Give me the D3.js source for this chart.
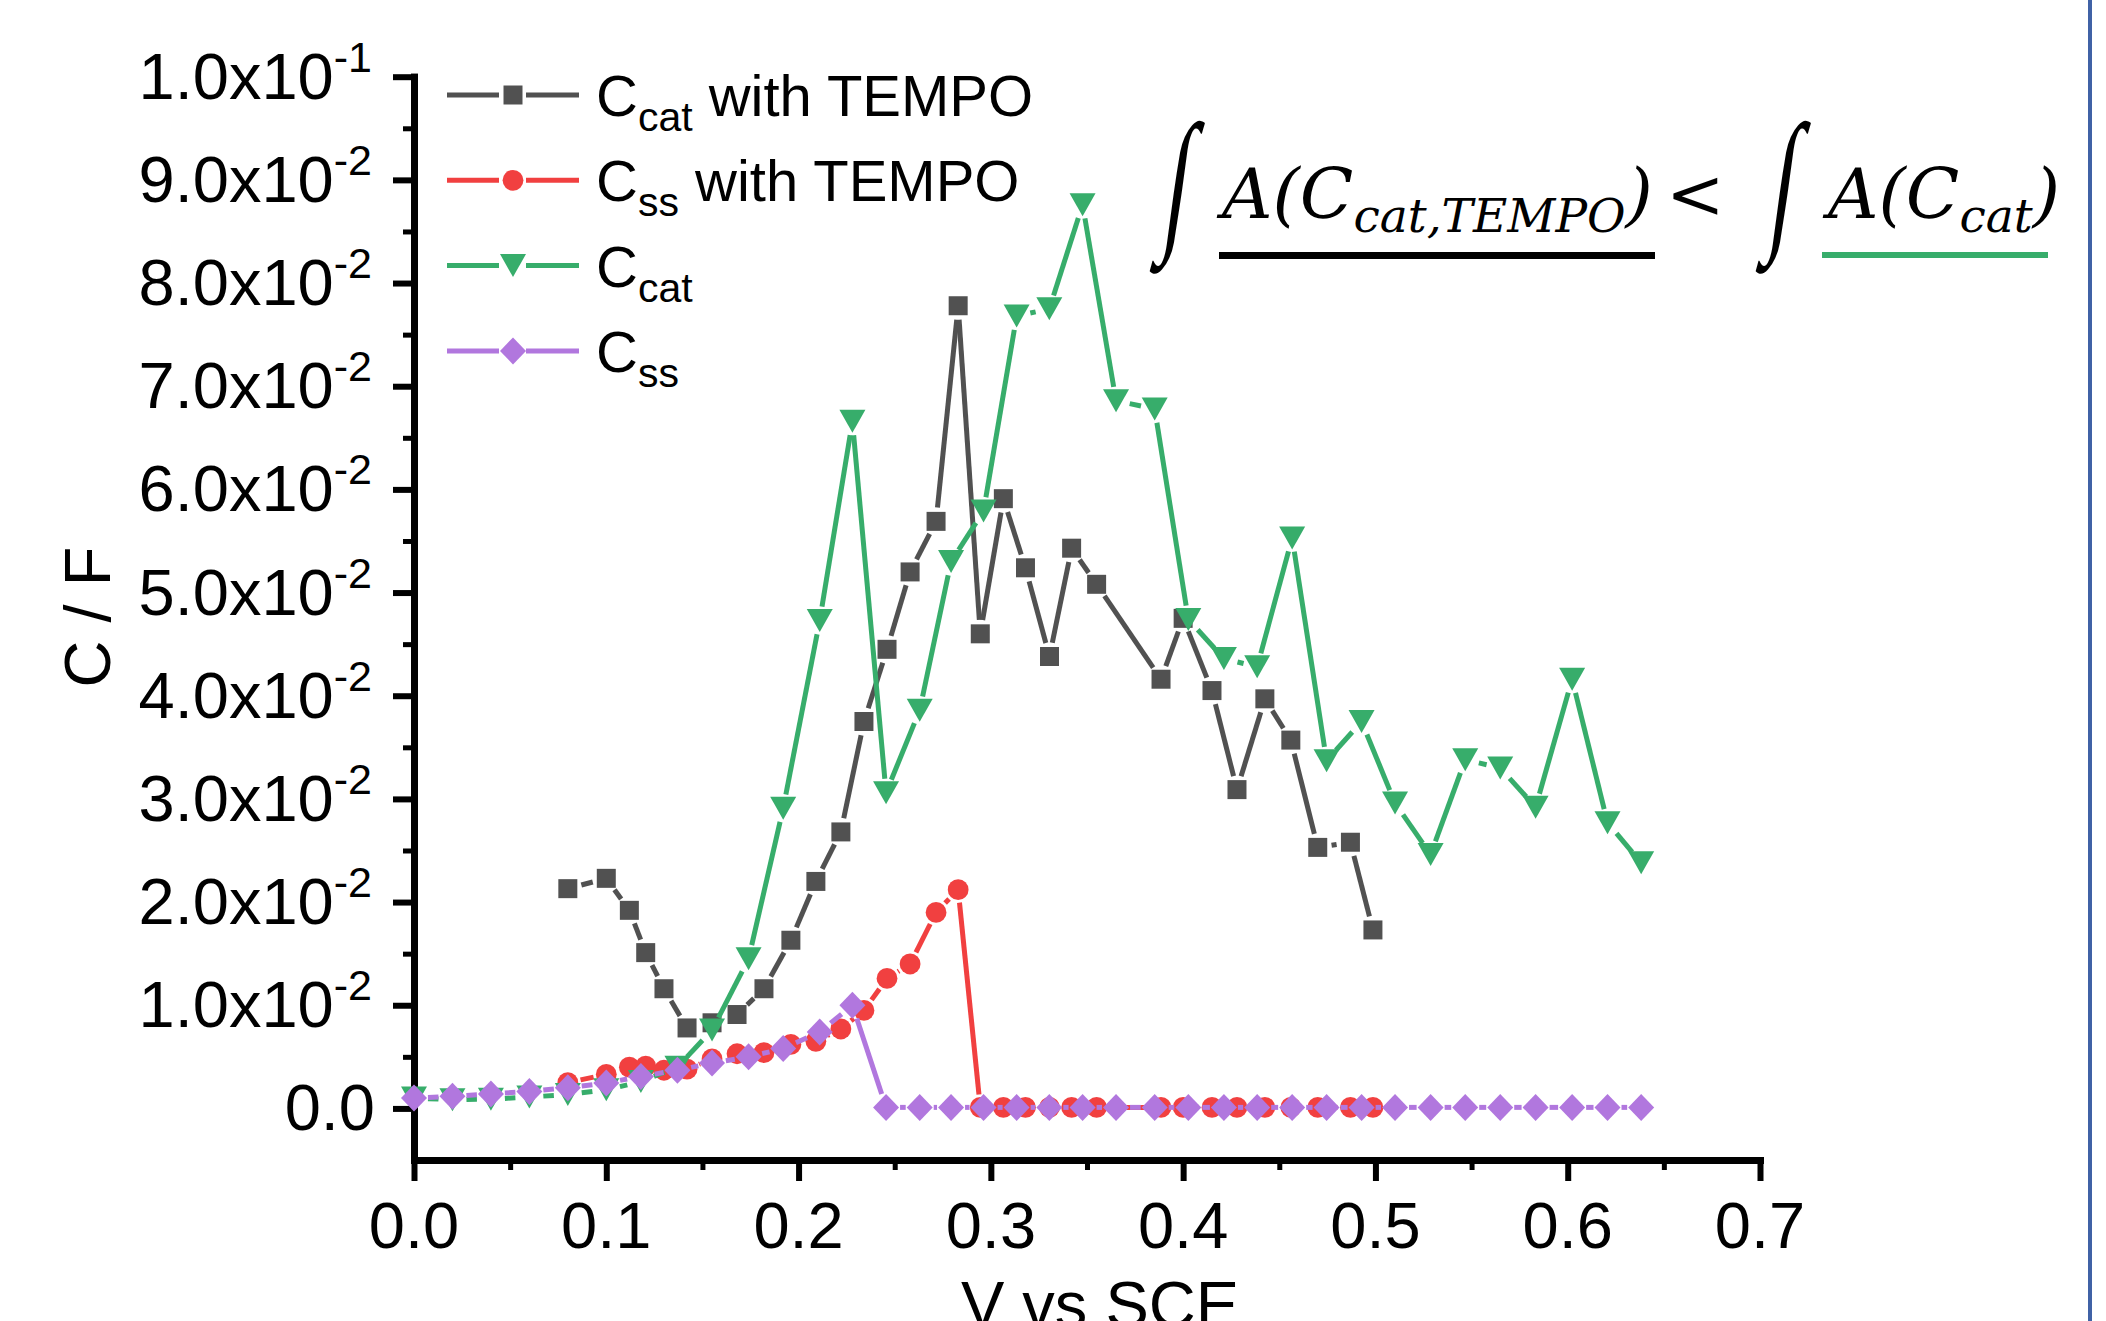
<!DOCTYPE html>
<html>
<head>
<meta charset="utf-8">
<script src="https://cdn.jsdelivr.net/npm/d3@7"></script>
<style>
body { margin: 0; background: #fff; }
svg { display: block; }
text { font-family: "Liberation Sans", Arial, sans-serif; fill: #000; white-space: pre; }
.formula text { font-family: "DejaVu Serif", serif; font-style: italic; }
.formula text.integral { font-family: "Liberation Serif", serif; font-style: normal; }
</style>
</head>
<body>
<svg width="2106" height="1321"></svg>
<script>
'use strict';

///////////////////////////// data /////////////////////////////
// potentials (V vs SCE) of the TEMPO runs
var tempoV = [0.080, 0.100, 0.112, 0.1205, 0.130, 0.142, 0.155, 0.168, 0.182, 0.196,
    0.209, 0.222, 0.234, 0.246, 0.258, 0.2715, 0.283, 0.2945, 0.3065, 0.318, 0.3305,
    0.342, 0.355, 0.3885, 0.400, 0.415, 0.428, 0.4425, 0.456, 0.470, 0.487, 0.4987];
var catTempoC = [0.0213, 0.0223, 0.0192, 0.0151, 0.0116, 0.0078, 0.0083, 0.0091, 0.0116, 0.0163,
    0.0220, 0.0268, 0.0375, 0.0445, 0.0520, 0.0569, 0.0778, 0.0460, 0.0591, 0.0524, 0.0438,
    0.0543, 0.0508, 0.0416, 0.0475, 0.0405, 0.0309, 0.0397, 0.0357, 0.0253, 0.0258, 0.0173];
var ssTempoC = [0.0025, 0.0033, 0.0040, 0.0041, 0.0037, 0.0038, 0.0048, 0.0053, 0.0054, 0.0062,
    0.0065, 0.0077, 0.0095, 0.0126, 0.0140, 0.0190, 0.0212, 0.0001, 0.0001, 0.0001, 0.0001,
    0.0001, 0.0001, 0.0001, 0.0001, 0.0001, 0.0001, 0.0001, 0.0001, 0.0001, 0.0001, 0.0001];

// potentials of the runs without TEMPO
var plainV = [0.000, 0.020, 0.040, 0.060, 0.080, 0.100, 0.118, 0.137, 0.155, 0.174,
    0.192, 0.211, 0.228, 0.2455, 0.263, 0.2793, 0.2962, 0.3134, 0.3304, 0.3477, 0.3651,
    0.3852, 0.4027, 0.4212, 0.4385, 0.4567, 0.4746, 0.4928, 0.5102, 0.5287, 0.5467,
    0.5649, 0.5833, 0.6023, 0.6207, 0.6382];
var catC = [0.0010, 0.00085, 0.0009, 0.0011, 0.00135, 0.0018, 0.0026, 0.0040, 0.0076, 0.0145,
    0.0291, 0.0473, 0.0666, 0.0306, 0.0386, 0.0530, 0.0579, 0.0768, 0.0775, 0.0876, 0.0686,
    0.0678, 0.0474, 0.0436, 0.0428, 0.0553, 0.0337, 0.0375, 0.0296, 0.0246, 0.0338,
    0.0330, 0.0292, 0.0416, 0.0277, 0.0238];
var ssC = [0.0010, 0.00117, 0.0014, 0.00165, 0.0020, 0.00246, 0.0031, 0.0037, 0.0044, 0.0050,
    0.0058, 0.0074, 0.0100, 0.0001, 0.0001, 0.0001, 0.0001, 0.0001, 0.0001, 0.0001, 0.0001,
    0.0001, 0.0001, 0.0001, 0.0001, 0.0001, 0.0001, 0.0001, 0.0001, 0.0001, 0.0001,
    0.0001, 0.0001, 0.0001, 0.0001, 0.0001];

// ticks
var xTicks = [0, 0.1, 0.2, 0.3, 0.4, 0.5, 0.6, 0.7];
var xTickLabels = ['0.0', '0.1', '0.2', '0.3', '0.4', '0.5', '0.6', '0.7'];
var xMinor = [0.05, 0.15, 0.25, 0.35, 0.45, 0.55, 0.65];
var yTicks = [0, 0.01, 0.02, 0.03, 0.04, 0.05, 0.06, 0.07, 0.08, 0.09, 0.1];
var yTickMantissa = ['0.0', '1.0x10', '2.0x10', '3.0x10', '4.0x10', '5.0x10', '6.0x10', '7.0x10', '8.0x10', '9.0x10', '1.0x10'];
var yTickExp = ['', '-2', '-2', '-2', '-2', '-2', '-2', '-2', '-2', '-2', '-1'];
var yMinor = [0.005, 0.015, 0.025, 0.035, 0.045, 0.055, 0.065, 0.075, 0.085, 0.095];

// legend
var legendMain = ['C', 'C', 'C', 'C'];
var legendSub = ['cat', 'ss', 'cat', 'ss'];
var legendTail = [' with TEMPO', ' with TEMPO', '', ''];

///////////////////////////// set up /////////////////////////////
var svg = d3.select('svg');
var x = d3.scaleLinear().domain([0, 0.7]).range([414, 1760]);
var y = d3.scaleLinear().domain([-0.005, 0.1]).range([1160, 76.7]);

var squarePath = d3.symbol(d3.symbolSquare, 361)();
var circlePath = d3.symbol(d3.symbolCircle, 340)();
var trianglePath = 'M-13,-11.5L13,-11.5L0,11.5Z';
var diamondPath = 'M0,-13.5L13,0L0,13.5L-13,0Z';

function zip(vs, cs) {
    return vs.map(function(v, i) { return {v: v, c: cs[i]}; });
}

var series = [
    {pts: zip(tempoV, catTempoC), color: '#515151', shape: squarePath, gap: 14},
    {pts: zip(tempoV, ssTempoC), color: '#F14040', shape: circlePath, gap: 13},
    {pts: zip(plainV, catC), color: '#37AD6B', shape: trianglePath, gap: 14},
    {pts: zip(plainV, ssC), color: '#B177DE', shape: diamondPath, gap: 14}
];

// Origin style: every segment stops short of the symbols
function gapSegments(pts, gap) {
    var segs = [];
    for (var i = 0; i < pts.length - 1; i++) {
        var x1 = x(pts[i].v), y1 = y(pts[i].c);
        var x2 = x(pts[i + 1].v), y2 = y(pts[i + 1].c);
        var dx = x2 - x1, dy = y2 - y1, len = Math.sqrt(dx * dx + dy * dy);
        if (len <= 2 * gap + 1) { continue; }
        var ux = dx / len, uy = dy / len;
        segs.push({x1: x1 + ux * gap, y1: y1 + uy * gap, x2: x2 - ux * gap, y2: y2 - uy * gap});
    }
    return segs;
}

///////////////////////////// axes /////////////////////////////
function styleAxis(g, width) {
    g.select('.domain').attr('stroke', '#000').attr('stroke-width', 7).attr('stroke-linecap', 'square');
    g.selectAll('.tick line').attr('stroke', '#000').attr('stroke-width', width);
}

svg.append('g')
    .attr('transform', 'translate(0,1160)')
    .call(d3.axisBottom(x).tickValues(xMinor).tickSize(10).tickSizeOuter(0).tickFormat(''))
    .call(styleAxis, 5);
svg.append('g')
    .attr('transform', 'translate(0,1160)')
    .call(d3.axisBottom(x).tickValues(xTicks).tickSize(21).tickSizeOuter(0).tickFormat(''))
    .call(styleAxis, 6);
svg.append('g')
    .attr('transform', 'translate(414,0)')
    .call(d3.axisLeft(y).tickValues(yMinor).tickSize(11).tickSizeOuter(0).tickFormat(''))
    .call(styleAxis, 5);
svg.append('g')
    .attr('transform', 'translate(414,0)')
    .call(d3.axisLeft(y).tickValues(yTicks).tickSize(21).tickSizeOuter(0).tickFormat(''))
    .call(styleAxis, 6);

// tick labels
svg.selectAll('.xlab')
    .data(xTicks)
    .enter()
    .append('text')
    .attr('class', 'xlab')
    .attr('x', function(d) { return x(d); })
    .attr('y', 1248)
    .attr('text-anchor', 'middle')
    .attr('font-size', 65)
    .text(function(d, i) { return xTickLabels[i]; });

var ylab = svg.selectAll('.ylab')
    .data(yTicks)
    .enter()
    .append('text')
    .attr('class', 'ylab')
    .attr('x', function(d, i) { return yTickExp[i] ? 372 : 375; })
    .attr('y', function(d) { return y(d) + 22; })
    .attr('text-anchor', 'end')
    .attr('font-size', 65);
ylab.append('tspan').text(function(d, i) { return yTickMantissa[i]; });
ylab.append('tspan')
    .attr('font-size', 43)
    .attr('dy', -27)
    .text(function(d, i) { return yTickExp[i]; });

// axis titles (the reference crops the x title at the bottom edge)
svg.append('text')
    .attr('x', 1100)
    .attr('y', 1327)
    .attr('text-anchor', 'middle')
    .attr('font-size', 65)
    .text('V vs SCE');
svg.append('text')
    .attr('transform', 'translate(110,617) rotate(-90)')
    .attr('text-anchor', 'middle')
    .attr('font-size', 65)
    .text('C / F');

///////////////////////////// series /////////////////////////////
series.forEach(function(s) {
    var g = svg.append('g');
    g.selectAll('line')
        .data(gapSegments(s.pts, s.gap))
        .enter()
        .append('line')
        .attr('x1', function(d) { return d.x1; })
        .attr('y1', function(d) { return d.y1; })
        .attr('x2', function(d) { return d.x2; })
        .attr('y2', function(d) { return d.y2; })
        .attr('stroke', s.color)
        .attr('stroke-width', 5);
    g.selectAll('path')
        .data(s.pts)
        .enter()
        .append('path')
        .attr('d', s.shape)
        .attr('transform', function(d) { return 'translate(' + x(d.v) + ',' + y(d.c) + ')'; })
        .attr('fill', s.color);
});

///////////////////////////// legend /////////////////////////////
var legend = svg.selectAll('.legend')
    .data(series)
    .enter()
    .append('g')
    .attr('class', 'legend')
    .attr('transform', function(d, i) { return 'translate(0,' + (95 + i * 85.3) + ')'; });
legend.append('line')
    .attr('x1', 447).attr('x2', 499).attr('y1', 0).attr('y2', 0)
    .attr('stroke', function(d) { return d.color; })
    .attr('stroke-width', 5);
legend.append('line')
    .attr('x1', 526).attr('x2', 579).attr('y1', 0).attr('y2', 0)
    .attr('stroke', function(d) { return d.color; })
    .attr('stroke-width', 5);
legend.append('path')
    .attr('d', function(d) { return d.shape; })
    .attr('transform', 'translate(513,0)')
    .attr('fill', function(d) { return d.color; });
var legText = legend.append('text')
    .attr('x', 596)
    .attr('y', 21)
    .attr('font-size', 58);
legText.append('tspan').text(function(d, i) { return legendMain[i]; });
legText.append('tspan').attr('font-size', 41).attr('dy', 15).text(function(d, i) { return legendSub[i]; });
legText.append('tspan').attr('dy', -15).text(function(d, i) { return legendTail[i]; });

///////////////////////////// formula /////////////////////////////
var formula = svg.append('g').attr('class', 'formula');
formula.append('text').attr('class', 'integral')
    .attr('transform', 'translate(1160,232) skewX(-8) scale(0.7,1.2)')
    .attr('font-size', 130).text('\u222B');
var f1 = formula.append('text').attr('x', 1222).attr('y', 218).attr('font-size', 70);
f1.append('tspan').text('A(C');
f1.append('tspan').attr('font-size', 47).attr('dy', 14).text('cat,TEMPO');
f1.append('tspan').attr('dy', -14).text(')');
formula.append('rect').attr('x', 1219).attr('y', 252).attr('width', 436).attr('height', 7).attr('fill', '#000');
formula.append('text').attr('x', 1666).attr('y', 218).attr('font-size', 70).style('font-style', 'normal').text('<');
formula.append('text').attr('class', 'integral')
    .attr('transform', 'translate(1766,232) skewX(-8) scale(0.7,1.2)')
    .attr('font-size', 130).text('\u222B');
var f2 = formula.append('text').attr('x', 1828).attr('y', 218).attr('font-size', 70);
f2.append('tspan').text('A(C');
f2.append('tspan').attr('font-size', 47).attr('dy', 14).text('cat');
f2.append('tspan').attr('dy', -14).text(')');
formula.append('rect').attr('x', 1822).attr('y', 252).attr('width', 226).attr('height', 6).attr('fill', '#37AD6B');

// thin frame line at the right edge
svg.append('line')
    .attr('x1', 2090).attr('x2', 2090).attr('y1', 0).attr('y2', 1321)
    .attr('stroke', '#4062A6')
    .attr('stroke-width', 4);
</script>
</body>
</html>
